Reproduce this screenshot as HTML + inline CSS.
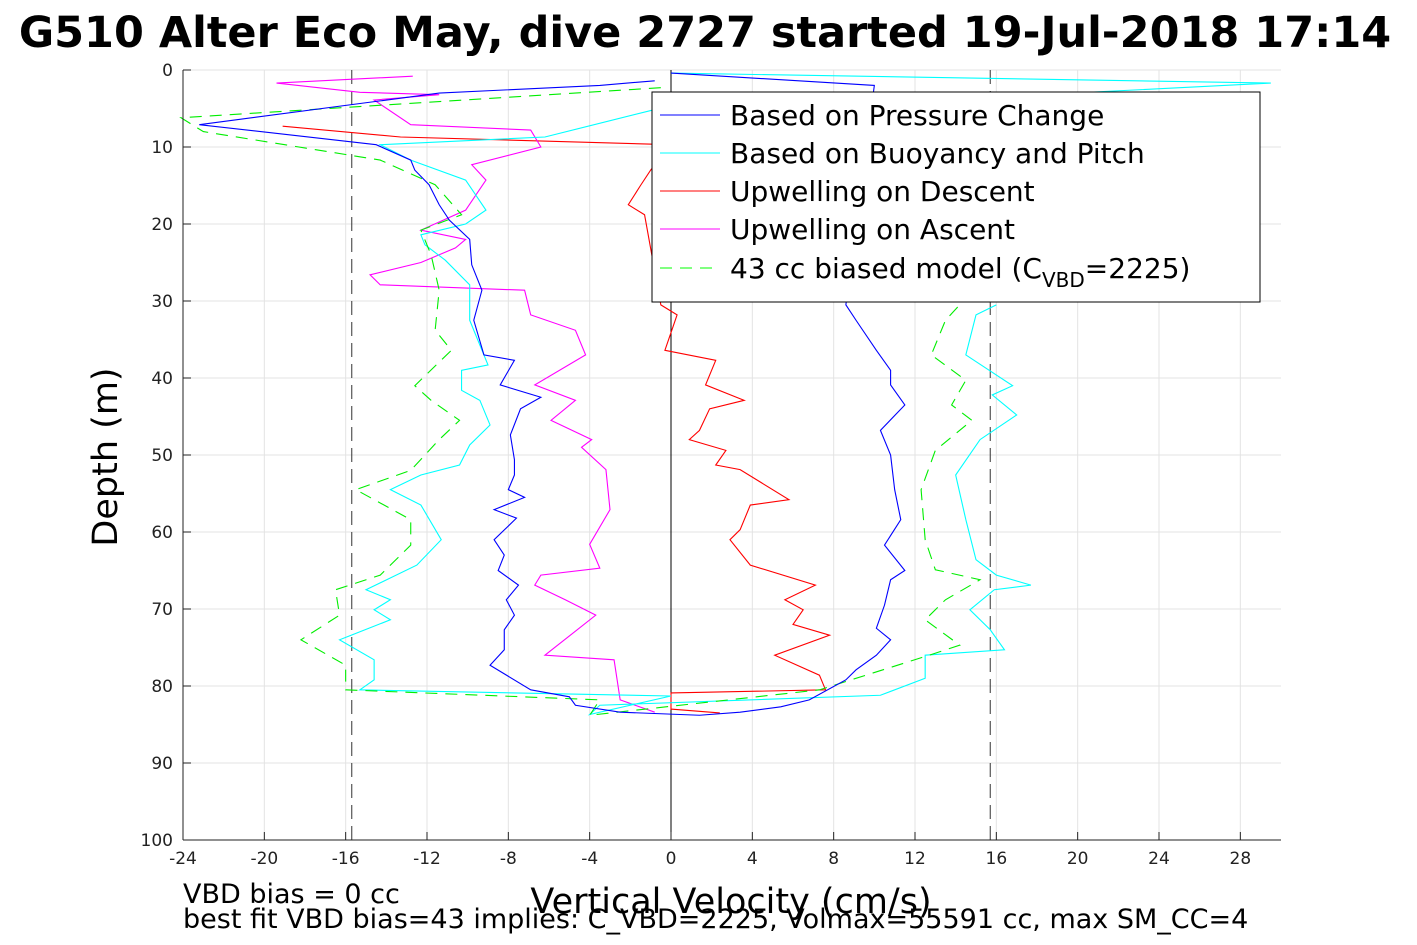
<!DOCTYPE html>
<html><head><meta charset="utf-8"><style>
body{margin:0;background:#fff;overflow:hidden}
svg{display:block;font-family:"DejaVu Sans","Liberation Sans",sans-serif}
</style></head><body>
<svg id="chart" width="1417" height="945" viewBox="0 0 1417 945">
<text x="705" y="47" text-anchor="middle" font-size="43" font-weight="bold">G510 Alter Eco May, dive 2727 started 19-Jul-2018 17:14</text>
<g id="grid"></g>
<g id="series"></g>
<g id="axes"></g>
<g>
<rect x="652" y="92" width="608" height="210" fill="#fff" stroke="#000" stroke-width="1"/>
<line x1="660" y1="115" x2="720" y2="115" stroke="#0000ff"/>
<text x="730" y="125" font-size="28">Based on Pressure Change</text>
<line x1="660" y1="153" x2="720" y2="153" stroke="#00ffff"/>
<text x="730" y="163" font-size="28">Based on Buoyancy and Pitch</text>
<line x1="660" y1="191" x2="720" y2="191" stroke="#ff0000"/>
<text x="730" y="201" font-size="28">Upwelling on Descent</text>
<line x1="660" y1="229" x2="720" y2="229" stroke="#ff00ff"/>
<text x="730" y="239" font-size="28">Upwelling on Ascent</text>
<line x1="660" y1="268" x2="720" y2="268" stroke="#00ff00" stroke-dasharray="12,8"/>
<text x="730" y="278" font-size="28">43 cc biased model (C<tspan font-size="20" dy="9">VBD</tspan><tspan dy="-9">=2225)</tspan></text>
</g>
<text transform="translate(117,457) rotate(-90)" text-anchor="middle" font-size="35">Depth (m)</text>
<text x="731" y="913" text-anchor="middle" font-size="35">Vertical Velocity (cm/s)</text>
<text x="183" y="903" font-size="27">VBD bias = 0 cc</text>
<text x="183" y="928" font-size="27">best fit VBD bias=43 implies: C_VBD=2225, Volmax=55591 cc, max SM_CC=4</text>
</svg>
<script>
const xTicks=[-24,-20,-16,-12,-8,-4,0,4,8,12,16,20,24,28];
const yTicks=[0,10,20,30,40,50,60,70,80,90,100];
const vbdLimit=15.7;
const pressureV=[-0.8,-3.5,-11.4,-23.2,-14.5,-12.8,-12.6,-11.9,-11.4,-10.9,-9.9,-9.8,-9.3,-9.7,-9.2,-7.7,-8.4,-6.4,-7.4,-7.9,-7.7,-7.7,-8,-7.2,-8.7,-7.6,-8.7,-8.2,-8.5,-7.5,-8.1,-7.7,-8.2,-8.2,-8.9,-6.9,-5,-4.7,-2.5,1.4,3.4,5.4,6.8,8.6,9.1,10.1,10.8,10.1,10.5,10.8,11.5,10.5,11.3,11,10.8,10.3,11.5,10.8,10.8,10.1,9.1,8.6,10,0];
const pressureD=[1.4,2,3,7.1,9.7,11.7,13,14.9,17.5,19.5,22,25.3,28.6,32.5,37,37.7,40.9,42.5,44,47.4,50.6,52.6,54.5,55.5,57.1,58.2,61,63,65,66.9,68.8,70.8,72.7,75.3,77.3,80.5,81.4,82.5,83.4,83.8,83.4,82.7,81.8,79.2,77.9,76,74,72.5,69.5,66.2,65,61.7,58.4,54.5,50,46.8,43.5,40.9,39,36.4,32.5,30.5,2,0.4];
const buoyV=[0,29.5,16,-0.9,-6.2,-14.3,-12.8,-10.1,-9.1,-10.1,-12.3,-12.1,-11.1,-9.9,-9.9,-9,-10.3,-10.3,-9.4,-8.9,-9.9,-10.4,-12.3,-13.8,-12.3,-11.3,-12.5,-15,-13.8,-14.6,-13.8,-16.3,-14.6,-14.6,-15.3,0,-4,-3.5,10.3,12.5,12.5,16.4,15.7,14.7,15.9,17.7,16,15,14.5,14,15.2,17,15.8,16.8,14.5,15,16];
const buoyD=[0.4,1.7,3.5,5.2,8.7,9.7,11.7,14.3,18.2,20,21.4,22.7,24.7,27.9,32.5,38.3,39,41.6,42.9,46.1,48.7,51.3,52.6,54.5,56.5,61,64.3,67.5,68.8,70.1,71.4,74,76.6,79.2,80.5,81.3,83.7,82.5,81.2,79,76,75.3,72.7,70.1,67.5,66.9,65.6,63.6,58.4,52.6,48,44.8,42.2,41,37,31.8,30.5];
const modelV=[-0.5,-24.1,-23,-14.3,-11.6,-10.3,-12.3,-11.8,-11.4,-11.6,-10.8,-12.6,-11.8,-10.4,-11.4,-12.8,-15.5,-12.8,-12.8,-14.3,-16.5,-16.3,-18.2,-16,-16,-3.5,-4,7.3,12.7,14.2,12.5,13.5,15.2,13,12.5,12.3,13,14.8,13.8,14.5,12.8,13.5,14.2];
const modelD=[2.3,6.2,8,11.7,14.9,18.8,20.8,24,28.6,33.8,36.4,41,42.9,45.5,48,52,54.5,58.4,61.7,65.6,67.5,70.8,74,77.3,80.5,81.8,83.8,80.5,76,74.7,71.4,68.8,66.2,64.9,61,54.5,49.4,45.5,43.5,40.3,37,32.5,30.5];
const descentV=[-19.1,-13.3,0,-1,-1.5,-2.1,-1.3,-0.5,0.3,-0.3,2.2,1.7,3.6,1.9,1.4,0.9,2.7,2.2,3.4,5.8,3.9,3.4,2.9,3.9,7.1,5.6,6.5,6,7.8,5.1,7.3,7.6,0,0,2.4];
const descentD=[7.3,8.7,9.7,13,15,17.5,18.8,30.5,31.8,36.4,37.7,40.9,42.9,44,46.8,48,49.4,51.3,51.9,55.8,56.5,59.7,61,64.3,66.9,68.8,70.1,72,73.4,76,78.6,80.5,80.9,83,83.5];
const ascentV=[-0.8,-2.5,-2.8,-6.2,-3.7,-5.2,-6.7,-6.4,-3.5,-4,-3,-3.2,-4.4,-3.9,-5.9,-4.7,-6.7,-4.2,-4.7,-6.9,-7.2,-14.3,-14.8,-12.3,-10.6,-10.1,-12.3,-10.1,-9.1,-9.8,-6.4,-6.9,-12.8,-14.6,-11.4,-15.3,-19.4,-12.7];
const ascentD=[83.4,81.8,76.6,76,70.8,68.8,66.9,65.6,64.7,61.6,57.1,51.9,49,48,45.5,42.9,40.9,37,33.8,31.8,28.6,27.9,26.6,25,23.1,22,20.8,18.2,14.3,12.3,10,7.8,7.1,3.9,3.2,2.9,1.7,0.8];

const X0=183,X1=1281,Y0=70,Y1=840,xMin=-24,xMax=30,yMin=0,yMax=100;
const sx=v=>X0+(v-xMin)/(xMax-xMin)*(X1-X0);
const sy=d=>Y0+(d-yMin)/(yMax-yMin)*(Y1-Y0);
const NS="http://www.w3.org/2000/svg";
function mk(tag,attrs,parent){const e=document.createElementNS(NS,tag);for(const k in attrs)e.setAttribute(k,attrs[k]);parent.appendChild(e);return e;}
const grid=document.getElementById('grid'),axes=document.getElementById('axes'),series=document.getElementById('series');
xTicks.forEach(t=>{
  const l=mk('line',{x1:sx(t),x2:sx(t),y1:Y0,y2:Y1,stroke:'#e3e3e3'},grid);
  
  
  const tk=mk('line',{x1:sx(t),x2:sx(t),y1:Y1,y2:Y1-8,stroke:'#222'},axes);
  
  
  const tx=mk('text',{x:sx(t),y:Y1+24,'text-anchor':'middle','font-size':17,fill:'#222'},axes);
  tx.textContent=t;
  
  
});
yTicks.forEach(t=>{
  const l=mk('line',{x1:X0,x2:X1,y1:sy(t),y2:sy(t),stroke:'#e3e3e3'},grid);
  
  
  const tk=mk('line',{x1:X0,x2:X0+8,y1:sy(t),y2:sy(t),stroke:'#222'},axes);
  
  
  const tx=mk('text',{x:X0-10,y:sy(t)+6,'text-anchor':'end','font-size':17,fill:'#222'},axes);
  tx.textContent=t;
  
  
});
const la=mk('line',{x1:X0,x2:X0,y1:Y0,y2:Y1,stroke:'#222'},axes);


const ba=mk('line',{x1:X0,x2:X1,y1:Y1,y2:Y1,stroke:'#222'},axes);


const zl=mk('line',{x1:sx(0),x2:sx(0),y1:Y0,y2:Y1,stroke:'#000'},series);


[-vbdLimit,vbdLimit].forEach(v=>{
  const l=mk('line',{x1:sx(v),x2:sx(v),y1:Y0,y2:Y1,stroke:'#333','stroke-dasharray':'14,7'},series);
  
  
});
function path(vs,ds,color,name,dash){
  const p=mk('polyline',{points:vs.map((v,i)=>sx(v)+','+sy(ds[i])).join(' '),fill:'none',stroke:color,'stroke-width':1.1},series);
  if(dash)p.setAttribute('stroke-dasharray',dash);
  
  
}
path(descentV,descentD,'#ff0000','upwelling-descent-line');
path(ascentV,ascentD,'#ff00ff','upwelling-ascent-line');
path(buoyV,buoyD,'#00ffff','buoyancy-pitch-line');
path(modelV,modelD,'#00ee00','biased-model-line','12,8');
path(pressureV,pressureD,'#0000ff','pressure-change-line');
</script>
</body></html>
